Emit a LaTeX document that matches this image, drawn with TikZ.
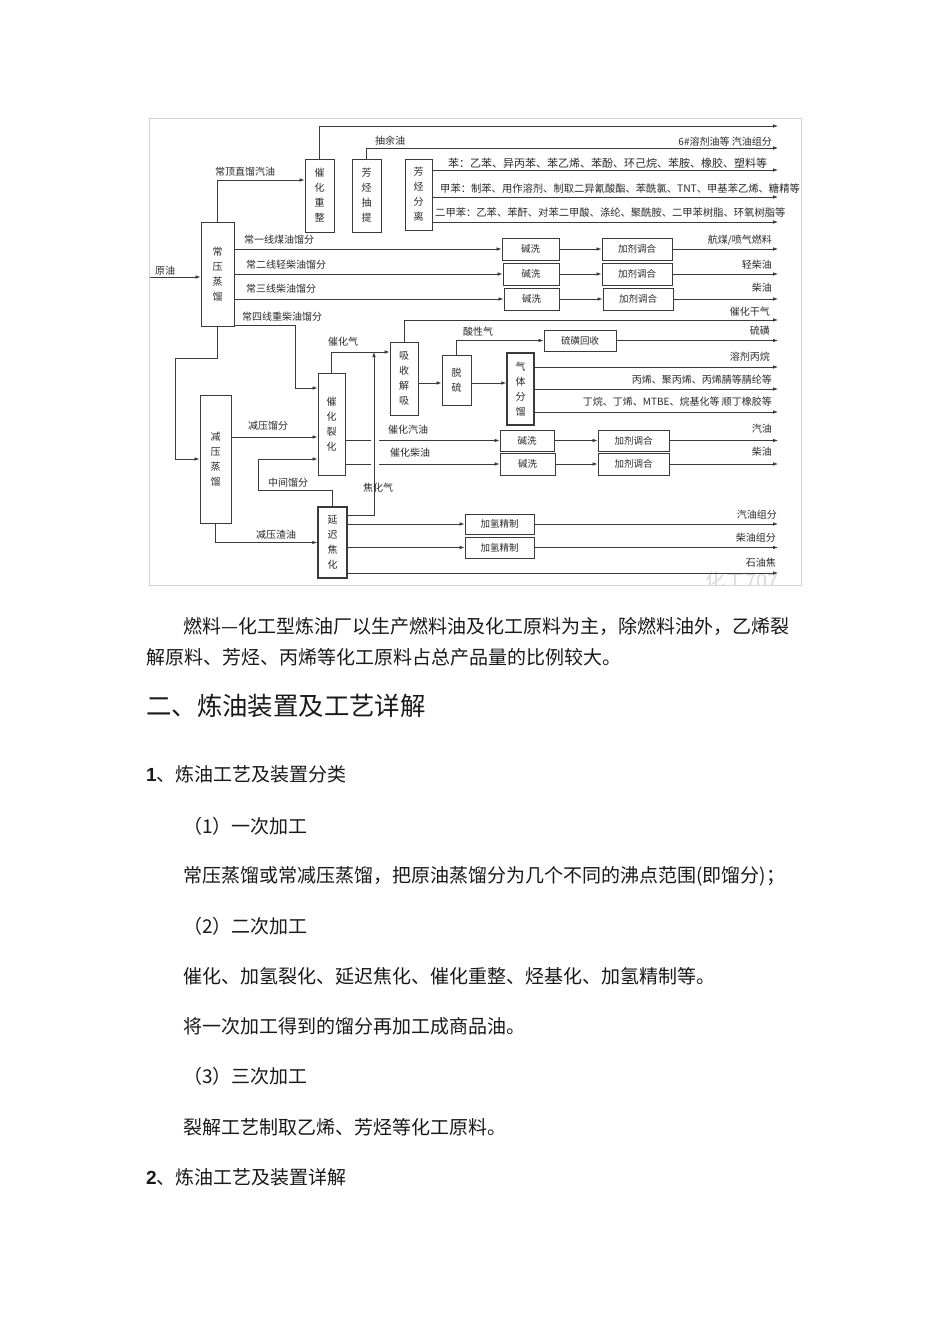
\documentclass[tikz,border=0pt]{standalone}
\usepackage{fontspec}
\setmainfont{Noto Sans CJK SC}
\newfontfamily\lsans{Liberation Sans}
\usetikzlibrary{arrows.meta}
\definecolor{ln}{HTML}{3A3A3A}
\definecolor{tx}{HTML}{2A2A2A}
\begin{document}
\begin{tikzpicture}[x=1pt,y=-1pt,
  box/.style={draw=ln, line width=0.8pt, inner sep=0pt, fill=white, text=tx},
  tbox/.style={line width=1.5pt},
  vbox/.style={box, align=center, font=\fontsize{10}{15}\selectfont},
  hbox/.style={box, font=\fontsize{9.5}{11}\selectfont},
  conn/.style={draw=ln, line width=0.75pt},
  arr/.style={conn, -{Latex[length=5pt,width=3.6pt]}},
  lab/.style={font=\fontsize{10}{12}\selectfont, text=tx, inner sep=0pt},
  lw/.style={lab, anchor=west},
  le/.style={lab, anchor=east},
  body/.style={font=\fontsize{19}{22}\selectfont, text=black!90, inner sep=0pt, anchor=west},
]
\useasboundingbox (0,0) rectangle (950,1344);
\fill[white] (0,0) rectangle (950,1344);

% frame
\draw[gray!35, line width=0.8pt] (149,118) rectangle (801,585);
\begin{scope}
\clip (149,118) rectangle (801,585);
\node[font=\fontsize{20}{22}\selectfont, text=gray!30, anchor=north west, inner sep=0pt] (wm) at (705,571) {化工707};
\end{scope}

% vertical boxes
\node[vbox, minimum width=29, minimum height=73] (crz) at (319.5,195.5) {催\\化\\重\\整};
\node[vbox, minimum width=29, minimum height=73] (fqcq) at (366.5,195.5) {芳\\烃\\抽\\提};
\node[vbox, minimum width=27, minimum height=71] (fqfl) at (418.5,194.5) {芳\\烃\\分\\离};
\node[vbox, minimum width=33, minimum height=104] (cyzl) at (217.5,274) {常\\压\\蒸\\馏};
\node[vbox, minimum width=31, minimum height=128] (jyzl) at (215.5,459) {减\\压\\蒸\\馏};
\node[vbox, minimum width=27, minimum height=102] (chlh) at (331.5,424) {催\\化\\裂\\化};
\node[vbox, tbox, minimum width=29, minimum height=71] (ycjh) at (332.5,542.5) {延\\迟\\焦\\化};
\node[vbox, minimum width=28, minimum height=73] (xsjx) at (404,378.5) {吸\\收\\解\\吸};
\node[vbox, minimum width=29, minimum height=50] (tl) at (456.5,380) {脱\\硫};
\node[vbox, tbox, minimum width=27, minimum height=72] (qtfl) at (520.5,389) {气\\体\\分\\馏};

% horizontal boxes
\node[hbox, minimum width=57, minimum height=22] (jx1) at (530.5,249) {碱洗};
\node[hbox, minimum width=56, minimum height=22] (jx2) at (531,274) {碱洗};
\node[hbox, minimum width=55, minimum height=22] (jx3) at (531.5,299) {碱洗};
\node[hbox, minimum width=70, minimum height=22] (tj1) at (637,249) {加剂调合};
\node[hbox, minimum width=70, minimum height=22] (tj2) at (637,274) {加剂调合};
\node[hbox, minimum width=70, minimum height=22] (tj3) at (638,299) {加剂调合};
\node[hbox, minimum width=72, minimum height=21] (lhhs) at (580,340.5) {硫磺回收};
\node[hbox, minimum width=54, minimum height=21] (jx4) at (527,440.5) {碱洗};
\node[hbox, minimum width=55, minimum height=22] (jx5) at (527.5,464) {碱洗};
\node[hbox, minimum width=71, minimum height=21] (tj4) at (633.5,440.5) {加剂调合};
\node[hbox, minimum width=71, minimum height=22] (tj5) at (633.5,464) {加剂调合};
\node[hbox, minimum width=69, minimum height=20] (jq1) at (499.5,524) {加氢精制};
\node[hbox, minimum width=69, minimum height=21] (jq2) at (499.5,547.5) {加氢精制};

% free ends
\coordinate (o1) at (778,126);
\coordinate (o2) at (778,148);
\coordinate (o3) at (778,170);
\coordinate (o4) at (778,197);
\coordinate (o5) at (778,222);
\coordinate (oA) at (778,249);
\coordinate (oB) at (778,274);
\coordinate (oC) at (778,299);
\coordinate (oD) at (778,320);
\coordinate (oE) at (778,340.5);
\coordinate (oF) at (778,367);
\coordinate (oG) at (778,389);
\coordinate (oH) at (778,412);
\coordinate (oI) at (778,440.5);
\coordinate (oJ) at (778,464);
\coordinate (oK) at (778,524);
\coordinate (oL) at (778,547.5);
\coordinate (oM) at (778,573);
\coordinate (crude) at (150,277);
\coordinate (jn) at (374,352);
\coordinate (c4) at (295,388);
\coordinate (v1) at (175,358);
\coordinate (m1) at (258,490);
\coordinate (vg) at ([yshift=22pt]jyzl.east);
\coordinate (q1) at ([yshift=-4.5pt]xsjx.east);

% top section
\draw[arr] (crz.north) |- (o1);
\draw[arr] (fqcq.north) |- (o2);
\draw[arr] (fqfl.east |- o3) -- (o3);
\draw[arr] (fqfl.east |- o4) -- (o4);
\draw[arr] (fqfl.east |- o5) -- (o5);
\draw[arr] (cyzl.north) |- ([yshift=15.5pt]crz.west);
\draw[arr] (crude) -- (crude -| cyzl.west);

% atmospheric side draws
\draw[arr] (cyzl.east |- jx1.west) -- (jx1.west);
\draw[arr] (jx1) -- (tj1);
\draw[arr] (tj1.east) -- (oA);
\draw[arr] (cyzl.east |- jx2.west) -- (jx2.west);
\draw[arr] (jx2) -- (tj2);
\draw[arr] (tj2.east) -- (oB);
\draw[arr] (cyzl.east |- jx3.west) -- (jx3.west);
\draw[arr] (jx3) -- (tj3);
\draw[arr] (tj3.east) -- (oC);
\draw[arr] ([yshift=1pt]cyzl.south east) -| (c4) -- (c4 -| chlh.west);

% vacuum
\draw[arr] (cyzl.south) |- (v1) |- (jyzl.west);
\draw[arr] (vg) -- (vg -| chlh.west);
\draw[arr] (jyzl.south) |- (ycjh.west);
\draw[arr] (ycjh.north) |- (m1) |- ([yshift=-35pt]chlh.west);

% FCC products
\draw[arr] (chlh.east |- jx4.west) -- (jx4.west);
\draw[arr] (jx4) -- (tj4);
\draw[arr] (tj4.east) -- (oI);
\draw[arr] (chlh.east |- jx5.west) -- (jx5.west);
\draw[arr] (jx5) -- (tj5);
\draw[arr] (tj5.east) -- (oJ);
\draw[white, line width=8pt] (375,430) -- (375,472);
\draw[arr] (chlh.north) |- ([yshift=26.5pt]xsjx.west);
\draw[arr] ([yshift=27.5pt]ycjh.east) -| (jn);

% gas plant
\draw[arr] (xsjx.north) |- (oD);
\draw[arr] (q1) -- (q1 -| tl.west);
\draw[arr] (q1 -| tl.east) -- (q1 -| qtfl.west);
\draw[arr] (tl.north) |- (lhhs.west);
\draw[arr] (lhhs.east) -- (oE);
\draw[arr] (qtfl.east |- oF) -- (oF);
\draw[arr] (qtfl.east |- oG) -- (oG);
\draw[arr] (qtfl.east |- oH) -- (oH);

% coker products
\draw[arr] (ycjh.east |- jq1.west) -- (jq1.west);
\draw[arr] (ycjh.east |- jq2.west) -- (jq2.west);
\draw[arr] (ycjh.east |- oM) -- (oM);
\draw[arr] (jq1.east) -- (oK);
\draw[arr] (jq2.east) -- (oL);

% labels
\node[lw] (l1) at (215,172) {常顶直馏汽油};
\node[lw] (l2) at (375,141) {抽余油};
\node[le] (l3) at (772,142) {6\#溶剂油等 汽油组分};
\node[lw, font=\fontsize{11}{12}\selectfont] (l4) at (448,163) {苯：乙苯、异丙苯、苯乙烯、苯酚、环己烷、苯胺、橡胶、塑料等};
\node[lw, font=\fontsize{10.3}{12}\selectfont] (l5) at (440,189) {甲苯：制苯、用作溶剂、制取二异氰酸酯、苯酰氯、TNT、甲基苯乙烯、糖精等};
\node[lw, font=\fontsize{10.3}{12}\selectfont] (l6) at (435,213) {二甲苯：乙苯、苯酐、对苯二甲酸、涤纶、聚酰胺、二甲苯树脂、环氧树脂等};
\node[lw] (l7) at (155,271) {原油};
\node[lw] (l8) at (244,240) {常一线煤油馏分};
\node[lw] (l9) at (246,265) {常二线轻柴油馏分};
\node[lw] (l10) at (246,289) {常三线柴油馏分};
\node[lw] (l11) at (242,317) {常四线重柴油馏分};
\node[le] (r1) at (772,240) {航煤/喷气燃料};
\node[le] (r2) at (772,265) {轻柴油};
\node[le] (r3) at (772,288) {柴油};
\node[le] (r4) at (770,312) {催化干气};
\node[le] (r5) at (770,331) {硫磺};
\node[le] (r6) at (770,357) {溶剂丙烷};
\node[le] (r7) at (772,380) {丙烯、聚丙烯、丙烯腈等腈纶等};
\node[le] (r8) at (772,402) {丁烷、丁烯、MTBE、烷基化等 顺丁橡胶等};
\node[le] (r9) at (772,429) {汽油};
\node[le] (r10) at (772,452) {柴油};
\node[le] (r11) at (777,515) {汽油组分};
\node[le] (r12) at (776,538) {柴油组分};
\node[le] (r13) at (776,563) {石油焦};
\node[lw] (l12) at (328,342) {催化气};
\node[lw] (l13) at (463,332) {酸性气};
\node[lw] (l14) at (248,426) {减压馏分};
\node[lw] (l15) at (388,430) {催化汽油};
\node[lw] (l16) at (390,453) {催化柴油};
\node[lw] (l17) at (268,483) {中间馏分};
\node[lw] (l18) at (363,488) {焦化气};
\node[lw] (l19) at (256,535) {减压渣油};

% body text
\node[body] (t1) at (183,626) {燃料—化工型炼油厂以生产燃料油及化工原料为主，除燃料油外，乙烯裂};
\node[body] (t2) at (146,657) {解原料、芳烃、丙烯等化工原料占总产品量的比例较大。};
\node[body, font=\fontsize{25.4}{28}\selectfont] (t3) at (146,706) {二、炼油装置及工艺详解};
\node[body] (t4) at (146,774) {{\lsans\bfseries 1}、炼油工艺及装置分类};
\node[body] (t5) at (183,826) {（1）一次加工};
\node[body] (t6) at (183,876) {常压蒸馏或常减压蒸馏，把原油蒸馏分为几个不同的沸点范围(即馏分)；};
\node[body] (t7) at (183,926) {（2）二次加工};
\node[body] (t8) at (183,976) {催化、加氢裂化、延迟焦化、催化重整、烃基化、加氢精制等。};
\node[body] (t9) at (183,1026) {将一次加工得到的馏分再加工成商品油。};
\node[body] (t10) at (183,1076) {（3）三次加工};
\node[body] (t11) at (183,1127) {裂解工艺制取乙烯、芳烃等化工原料。};
\node[body] (t12) at (146,1177) {{\lsans\bfseries 2}、炼油工艺及装置详解};
\end{tikzpicture}
\end{document}
